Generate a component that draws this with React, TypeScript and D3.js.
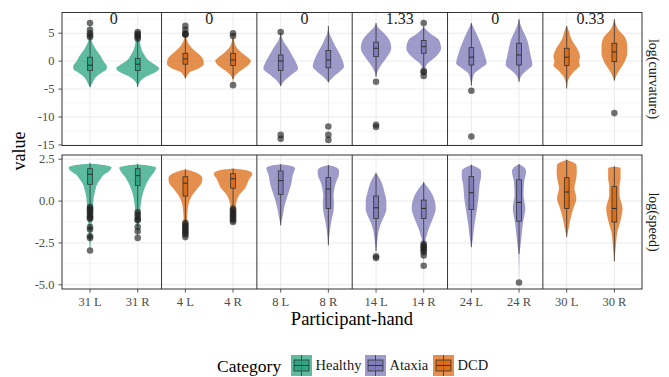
import * as d3 from "d3";

const PANELS = ["31", "4", "8", "14", "24", "30"];
const HANDS = ["L", "R"];
const PANEL_CATEGORY = ["Healthy", "DCD", "Ataxia", "Ataxia", "Ataxia", "DCD"];
const CATEGORIES = ["Healthy", "Ataxia", "DCD"];
const COLORS = ["#1b9e77", "#7570b3", "#d95f02"];
const TOP_LABELS = ["0", "0", "0", "1.33", "0", "0.33"];
const ROW_NAMES = ["log(curvature)", "log(speed)"];

const CURV_TICKS = [5, 0, -5, -10, -15];
const CURV_MINOR = [7.5, 2.5, -2.5, -7.5, -12.5];
const SPEED_TICKS = [2.5, 0, -2.5, -5];
const SPEED_MINOR = [1.25, -1.25, -3.75];

// violin outlines as [value, relative half width]; order: 31 L, 31 R, 4 L, 4 R, 8 L, ...
const CURV_SHAPES: [number, number][][] = [
  [[6.8, 0], [5, 0.03], [4, 0.06], [3, 0.14], [2, 0.29], [1, 0.48], [0, 0.62], [-1, 0.79], [-1.5, 0.76], [-2, 0.57], [-2.5, 0.38], [-3, 0.24], [-4, 0.1], [-4.7, 0]],
  [[5.2, 0], [4.5, 0.05], [3, 0.12], [2, 0.19], [1, 0.33], [0.2, 0.48], [-0.5, 0.75], [-1.3, 1.0], [-1.9, 0.86], [-2.8, 0.38], [-3.5, 0.14], [-4.7, 0]],
  [[6.3, 0], [4.4, 0.03], [3.5, 0.1], [2.6, 0.24], [1.8, 0.45], [1.1, 0.67], [0.3, 0.83], [-0.5, 0.86], [-1.3, 0.62], [-1.9, 0.24], [-2.5, 0.1], [-3.1, 0]],
  [[5.0, 0], [4.1, 0.03], [2.6, 0.14], [1.4, 0.43], [0.6, 0.7], [0.05, 0.83], [-0.5, 0.76], [-1.0, 0.62], [-1.9, 0.29], [-2.5, 0.12], [-3.1, 0.03], [-4.3, 0]],
  [[5.2, 0], [3.8, 0.1], [2.6, 0.29], [1.6, 0.45], [0.8, 0.57], [-0.3, 0.72], [-1.3, 0.81], [-2.5, 0.48], [-3.7, 0.14], [-4.3, 0.03], [-4.6, 0]],
  [[6.3, 0], [5.0, 0.05], [3.8, 0.19], [2.6, 0.33], [1.5, 0.5], [0.5, 0.62], [-1.0, 0.73], [-1.8, 0.55], [-2.5, 0.33], [-3.2, 0.14], [-3.8, 0]],
  [[6.8, 0], [6.0, 0.1], [5.3, 0.29], [3.8, 0.62], [2.3, 0.71], [1.5, 0.64], [0.8, 0.52], [-0.7, 0.24], [-1.9, 0.07], [-2.8, 0]],
  [[6.2, 0], [5.6, 0.12], [5.0, 0.29], [3.8, 0.71], [2.3, 0.81], [1.4, 0.71], [0.5, 0.48], [-0.4, 0.19], [-1.3, 0.05], [-1.6, 0]],
  [[6.8, 0], [5.3, 0.19], [3.2, 0.43], [1.1, 0.62], [-0.4, 0.71], [-1.3, 0.43], [-2.2, 0.14], [-3.7, 0.03], [-4.4, 0]],
  [[7.5, 0], [6.2, 0.1], [3.8, 0.38], [1.4, 0.52], [-0.7, 0.62], [-1.6, 0.38], [-2.5, 0.14], [-3.7, 0]],
  [[6.3, 0], [5.9, 0.05], [3.8, 0.24], [2.3, 0.48], [0.8, 0.62], [-0.1, 0.57], [-0.7, 0.62], [-1.9, 0.33], [-3.1, 0.1], [-4.9, 0]],
  [[7.5, 0], [5.6, 0.19], [4.1, 0.52], [2.6, 0.6], [1.4, 0.6], [-0.1, 0.48], [-1.6, 0.24], [-2.8, 0.07], [-3.5, 0]],
];
// [lower whisker, q1, median, q3, upper whisker]
const CURV_BOXES = [
  [-4.6, -1.7, -0.73, 0.7, 4.0],
  [-4.6, -1.7, -0.55, 0.5, 3.9],
  [-3.1, -0.55, 0.4, 1.4, 4.4],
  [-3.2, -0.8, 0.2, 1.4, 4.1],
  [-4.4, -1.7, 0.03, 1.1, 5.0],
  [-3.8, -1.2, 0.2, 1.9, 6.3],
  [-2.8, 0.8, 2.3, 3.4, 6.8],
  [-1.3, 1.4, 2.6, 3.7, 6.2],
  [-4.4, -0.7, 0.7, 2.4, 6.8],
  [-3.7, -0.7, 1.1, 3.2, 7.5],
  [-4.9, -0.8, 0.7, 2.3, 6.3],
  [-3.5, -0.1, 1.65, 3.2, 7.5],
];
const CURV_OUTLIERS = [
  [4.3, 4.6, 5.0, 5.6, 6.8],
  [4.0, 4.3, 4.6, 4.9, 5.2],
  [4.7, 4.8, 5.0, 5.6, 6.3],
  [4.5, 5.0, -4.3],
  [5.2, -13.2, -13.9],
  [-11.7, -13.2, -14.1],
  [-3.7, -11.4, -11.8],
  [6.8, -1.75, -2.0, -2.65],
  [-5.3, -13.5],
  [],
  [],
  [-9.3],
];

const SPEED_SHAPES: [number, number][][] = [
  [[2.25, 0], [2.15, 0.67], [2.0, 1.0], [1.8, 0.9], [1.6, 0.67], [1.3, 0.48], [1.0, 0.33], [0.6, 0.24], [0.2, 0.17], [-0.3, 0.14], [-0.6, 0.12], [-1.0, 0.1], [-1.5, 0.07], [-2.2, 0.05], [-3.0, 0]],
  [[2.2, 0], [2.1, 0.62], [2.0, 0.86], [1.8, 0.8], [1.4, 0.57], [0.8, 0.33], [0.2, 0.19], [-0.25, 0.14], [-0.7, 0.1], [-1.2, 0.07], [-2.2, 0]],
  [[1.9, 0], [1.75, 0.4], [1.37, 0.79], [1.1, 0.76], [0.77, 0.57], [0.36, 0.33], [0, 0.19], [-0.64, 0.1], [-1.3, 0.07], [-2.15, 0]],
  [[1.95, 0], [1.85, 0.6], [1.63, 0.9], [1.3, 0.75], [0.78, 0.57], [0.36, 0.29], [0, 0.17], [-0.3, 0.12], [-0.8, 0.07], [-1.25, 0]],
  [[2.2, 0], [2.1, 0.5], [1.97, 0.67], [1.57, 0.57], [0.96, 0.48], [0.36, 0.33], [-0.24, 0.19], [-0.84, 0.1], [-1.45, 0]],
  [[2.15, 0], [2.0, 0.38], [1.8, 0.5], [1.5, 0.48], [1.2, 0.38], [0.8, 0.29], [0.3, 0.24], [-0.2, 0.26], [-0.6, 0.24], [-1.2, 0.14], [-1.8, 0.07], [-2.65, 0]],
  [[1.67, 0], [1.3, 0.19], [1.0, 0.29], [0.5, 0.4], [0, 0.48], [-0.5, 0.48], [-0.9, 0.38], [-1.3, 0.24], [-1.8, 0.12], [-2.5, 0.05], [-3.0, 0]],
  [[1.13, 0], [0.56, 0.33], [0.16, 0.48], [-0.44, 0.56], [-1.04, 0.43], [-1.64, 0.24], [-2.15, 0.12], [-2.55, 0.05], [-3.86, 0]],
  [[2.17, 0], [1.9, 0.4], [1.77, 0.45], [1.46, 0.45], [0.96, 0.38], [0.16, 0.33], [-0.64, 0.24], [-1.45, 0.14], [-2.25, 0.07], [-2.75, 0]],
  [[2.2, 0], [2.0, 0.25], [1.77, 0.33], [1.16, 0.24], [0.36, 0.21], [-0.44, 0.29], [-1.25, 0.19], [-2.05, 0.12], [-2.85, 0.05], [-3.15, 0.02], [-4.86, 0]],
  [[2.47, 0], [2.17, 0.45], [1.77, 0.47], [1.4, 0.45], [0.77, 0.36], [0.16, 0.45], [-0.44, 0.31], [-1.04, 0.18], [-1.64, 0.09], [-2.15, 0]],
  [[2.07, 0], [1.97, 0.29], [1.37, 0.29], [0.86, 0.24], [0.36, 0.24], [-0.44, 0.38], [-1.14, 0.29], [-1.85, 0.14], [-2.65, 0.07], [-3.6, 0]],
];
const SPEED_BOXES = [
  [-0.3, 1.0, 1.6, 1.93, 2.25],
  [-0.45, 0.92, 1.52, 1.93, 2.2],
  [-1.2, 0.3, 1.07, 1.45, 1.87],
  [-0.35, 0.77, 1.33, 1.63, 1.93],
  [-1.45, 0.4, 1.22, 1.8, 2.2],
  [-2.65, -0.44, 0.72, 1.4, 2.15],
  [-3.0, -1.04, -0.4, 0.3, 1.67],
  [-2.5, -1.04, -0.44, 0.06, 1.13],
  [-2.75, -0.5, 0.5, 1.46, 2.17],
  [-3.15, -1.2, -0.08, 1.27, 2.2],
  [-2.15, -0.44, 0.54, 1.4, 2.47],
  [-3.6, -1.25, -0.44, 0.86, 2.07],
];
const SPEED_OUTLIERS = [
  [-0.35, -0.45, -0.55, -0.65, -0.75, -0.9, -1.0, -1.05, -1.55, -1.7, -2.1, -2.2, -2.95],
  [-0.65, -0.8, -0.95, -1.1, -1.15, -1.55, -1.8, -2.2],
  [-1.3, -1.4, -1.5, -1.6, -1.7, -1.8, -1.9, -2.0, -2.15],
  [-0.45, -0.55, -0.65, -0.75, -0.85, -0.95, -1.05, -1.15, -1.25],
  [],
  [],
  [-3.3, -3.4],
  [-2.55, -2.65, -2.75, -2.85, -2.95, -3.05, -3.25, -3.86],
  [],
  [-4.86],
  [],
  [],
];

const FONT = "Liberation Serif, DejaVu Serif, serif";
const INK = "#333333";

export default function App() {
  const W = 669, H = 377;
  const frameL = 62, frameR = 642;
  const col = d3.scaleBand<string>().domain(PANELS).range([66.2, 638.2]);
  const hand = d3.scalePoint<string>().domain(HANDS).range([0, col.bandwidth()]).padding(0.5);
  const halfMax = hand.step() * 0.45;
  const boxHalf = hand.step() * 0.05;
  const colorOf = (cat: string) => COLORS[CATEGORIES.indexOf(cat)];

  const rows = [
    {
      name: ROW_NAMES[0], shapes: CURV_SHAPES, boxes: CURV_BOXES, outliers: CURV_OUTLIERS,
      y: d3.scaleLinear().domain([-15.1, 8.7]).range([145.5, 12.5]),
      ticks: CURV_TICKS, minor: CURV_MINOR, fmt: (v: number) => String(v),
    },
    {
      name: ROW_NAMES[1], shapes: SPEED_SHAPES, boxes: SPEED_BOXES, outliers: SPEED_OUTLIERS,
      y: d3.scaleLinear().domain([-5.25, 2.75]).range([289, 155]),
      ticks: SPEED_TICKS, minor: SPEED_MINOR, fmt: (v: number) => v.toFixed(1),
    },
  ];

  const groups = PANELS.flatMap((p, pi) =>
    HANDS.map(h => ({ panel: p, hand: h, label: `${p} ${h}`, cat: PANEL_CATEGORY[pi], cx: (col(p) as number) + (hand(h) as number) }))
  );

  const legendItems = [
    { cat: "Healthy", keyX: 291 },
    { cat: "Ataxia", keyX: 365 },
    { cat: "DCD", keyX: 433 },
  ];

  return (
    <svg width={W} height={H} style={{ position: "absolute", left: 0, top: 0, display: "block", background: "#fff", fontFamily: FONT }}>
      {rows.map((row, ri) => {
        const [yBot, yTop] = row.y.range();
        const area = (cx: number) =>
          d3.area<[number, number]>()
            .curve(d3.curveMonotoneY)
            .y(d => row.y(d[0]))
            .x0(d => cx - d[1] * halfMax)
            .x1(d => cx + d[1] * halfMax);
        return (
          <g key={row.name}>
            <rect x={frameL} y={yTop} width={frameR - frameL} height={yBot - yTop} fill="#fff" />
            {row.minor.map(v => (
              <line key={"mn" + v} x1={frameL} x2={frameR} y1={row.y(v)} y2={row.y(v)} stroke="#f0f0f0" strokeWidth={0.6} />
            ))}
            {row.ticks.map(v => (
              <line key={"mj" + v} x1={frameL} x2={frameR} y1={row.y(v)} y2={row.y(v)} stroke="#ebebeb" strokeWidth={1} />
            ))}
            {groups.map(g => (
              <line key={"vg" + g.label} x1={g.cx} x2={g.cx} y1={yTop} y2={yBot} stroke="#ebebeb" strokeWidth={1} />
            ))}
            {groups.map((g, gi) => {
              const c = colorOf(g.cat);
              const [lo, q1, med, q3, hi] = row.boxes[gi];
              return (
                <g key={"v" + g.label}>
                  <path d={area(g.cx)(row.shapes[gi]) || ""} fill={c} fillOpacity={0.7} />
                  <line x1={g.cx} x2={g.cx} y1={row.y(hi)} y2={row.y(q3)} stroke={INK} strokeWidth={0.8} />
                  <line x1={g.cx} x2={g.cx} y1={row.y(q1)} y2={row.y(lo)} stroke={INK} strokeWidth={0.8} />
                  <rect x={g.cx - boxHalf} y={row.y(q3)} width={boxHalf * 2} height={row.y(q1) - row.y(q3)}
                    fill={c} fillOpacity={0.7} stroke={INK} strokeWidth={0.8} />
                  <line x1={g.cx - boxHalf} x2={g.cx + boxHalf} y1={row.y(med)} y2={row.y(med)} stroke={INK} strokeWidth={1.1} />
                  {row.outliers[gi].map((o, oi) => (
                    <circle key={oi} cx={g.cx} cy={row.y(o)} r={3.3} fill="#222" fillOpacity={0.65} />
                  ))}
                </g>
              );
            })}
            {/* panel frame */}
            <rect x={frameL} y={yTop} width={frameR - frameL} height={yBot - yTop} fill="none" stroke={INK} strokeWidth={1} />
            {PANELS.slice(1).map(p => (
              <line key={"d" + p} x1={col(p)} x2={col(p)} y1={yTop} y2={yBot} stroke={INK} strokeWidth={1} />
            ))}
            {/* y axis */}
            {row.ticks.map(v => (
              <g key={"t" + v}>
                <line x1={frameL - 3.7} x2={frameL} y1={row.y(v)} y2={row.y(v)} stroke={INK} strokeWidth={0.8} />
                <text x={frameL - 7.5} y={row.y(v)} dy="0.33em" textAnchor="end" fontSize={12.5} fill="#4d4d4d">{row.fmt(v)}</text>
              </g>
            ))}
            {/* strip */}
            <text transform={`translate(649,${(yTop + yBot) / 2}) rotate(90)`} textAnchor="middle" fontSize={14} fill="#1a1a1a">{row.name}</text>
            {ri === 0 && PANELS.map((p, pi) => (
              <text key={"a" + p} x={(col(p) as number) + col.bandwidth() / 2} y={24} textAnchor="middle" fontSize={16} fill="#1a1a1a">{TOP_LABELS[pi]}</text>
            ))}
          </g>
        );
      })}
      {/* x axis */}
      {groups.map(g => (
        <g key={"x" + g.label}>
          <line x1={g.cx} x2={g.cx} y1={289} y2={292.7} stroke={INK} strokeWidth={0.8} />
          <text x={g.cx} y={305.5} textAnchor="middle" fontSize={12.5} fill="#4d4d4d">{g.label}</text>
        </g>
      ))}
      <text x={352} y={324.5} textAnchor="middle" fontSize={18.5} fill="#000">Participant-hand</text>
      <text transform="translate(25,151) rotate(-90)" textAnchor="middle" fontSize={18} fill="#000">value</text>
      {/* legend */}
      <text x={217} y={371.5} fontSize={17.5} fill="#000">Category</text>
      {legendItems.map(item => {
        const c = colorOf(item.cat);
        const kx = item.keyX, ky = 355, ks = 21;
        return (
          <g key={"lg" + item.cat}>
            <rect x={kx} y={ky} width={ks} height={ks} fill={c} fillOpacity={0.7} />
            <line x1={kx + ks / 2} x2={kx + ks / 2} y1={ky} y2={ky + ks} stroke={INK} strokeWidth={0.8} />
            <rect x={kx + 3} y={ky + 5} width={ks - 6} height={ks - 10} fill={c} fillOpacity={0.7} stroke={INK} strokeWidth={0.8} />
            <line x1={kx + 3} x2={kx + ks - 3} y1={ky + ks / 2} y2={ky + ks / 2} stroke={INK} strokeWidth={1} />
            <text x={kx + ks + 3.5} y={370} fontSize={14.5} fill="#1a1a1a">{item.cat}</text>
          </g>
        );
      })}
    </svg>
  );
}
